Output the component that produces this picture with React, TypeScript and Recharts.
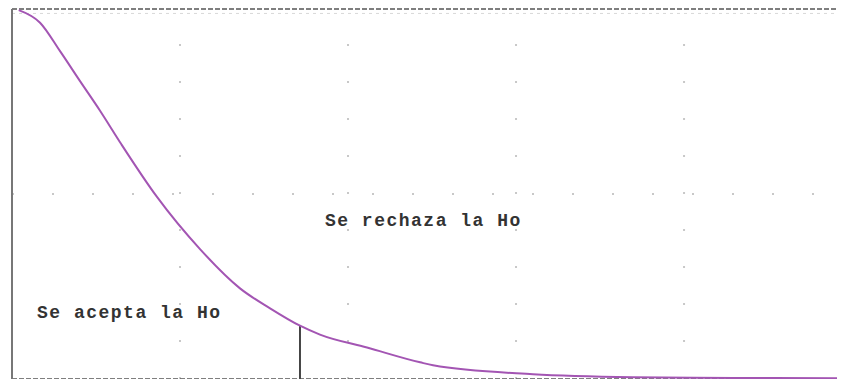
import React from "react";
import { LineChart, Line, XAxis, YAxis, ReferenceLine, ReferenceArea } from "recharts";

// Curve (x in grid units, y as fraction of the peak)
const xValues = [0.04, 0.167, 0.286, 0.405, 0.524, 0.65, 0.863, 1.119, 1.357, 1.536, 1.714, 1.833, 2.113, 2.429, 2.506, 3.101, 3.696, 4.3, 4.958];
const yValues = [0.997, 0.963, 0.886, 0.805, 0.725, 0.635, 0.492, 0.351, 0.245, 0.191, 0.144, 0.12, 0.085, 0.045, 0.037, 0.013, 0.005, 0.003, 0.002];

const xMax = 4.958;
const yDomain: [number, number] = [-0.013, 1.013];
const criticalX = 1.714;
const criticalY = 0.144;

const gridX = [1, 2, 3, 4];
const gridY = [0.5];

const labels = [
  { text: "Se rechaza la Ho", x: 1.833, y: 0.432 },
  { text: "Se acepta la Ho", x: 0.119, y: 0.182 },
];

const data = xValues.map((x, i) => ({ x, y: yValues[i] }));

const textStyle: React.CSSProperties = {
  fontFamily: "'Liberation Mono', 'DejaVu Sans Mono', monospace",
  fontWeight: 700,
  fontSize: 18,
  letterSpacing: 1.5,
};

export default function App() {
  return (
    <div style={{ margin: -8, width: 845, height: 387, overflow: "hidden", background: "#fff" }}>
      <LineChart width={845} height={387} data={data} margin={{ top: 4.2, right: 0, bottom: 3.2, left: 12 }}>
        <XAxis dataKey="x" type="number" domain={[0, xMax]} hide />
        <YAxis type="number" domain={yDomain} hide />
        {gridX.map((g) => (
          <ReferenceLine
            key={"gx" + g}
            segment={[
              { x: g, y: 0 },
              { x: g, y: 1 },
            ]}
            stroke="#c8c8c8"
            strokeWidth={2}
            strokeDasharray="2 35"
          />
        ))}
        {gridY.map((g) => (
          <ReferenceLine key={"gy" + g} y={g} stroke="#c8c8c8" strokeWidth={2} strokeDasharray="2 38" />
        ))}
        <ReferenceLine y={0.988} stroke="#d8d8d8" strokeWidth={1} strokeDasharray="3 4" />
        <ReferenceLine y={1} stroke="#555" strokeWidth={1.6} strokeDasharray="5 2" />
        <ReferenceLine y={0} stroke="#555" strokeWidth={1.6} strokeDasharray="5 2" />
        <ReferenceLine
          segment={[
            { x: 0, y: 0 },
            { x: 0, y: 1 },
          ]}
          stroke="#777"
          strokeWidth={2}
          ifOverflow="visible"
        />
        <ReferenceLine
          segment={[
            { x: criticalX, y: 0 },
            { x: criticalX, y: criticalY },
          ]}
          stroke="#444"
          strokeWidth={2}
        />
        <Line
          type="monotone"
          dataKey="y"
          stroke="#a355b3"
          strokeWidth={2}
          dot={false}
          isAnimationActive={false}
        />
        {labels.map((l) => (
          <ReferenceArea
            key={l.text}
            x1={l.x}
            x2={l.x}
            y1={l.y}
            y2={l.y}
            fill="none"
            stroke="none"
            ifOverflow="visible"
            label={{ value: l.text, position: "right", fill: "#333", style: textStyle }}
          />
        ))}
      </LineChart>
    </div>
  );
}
